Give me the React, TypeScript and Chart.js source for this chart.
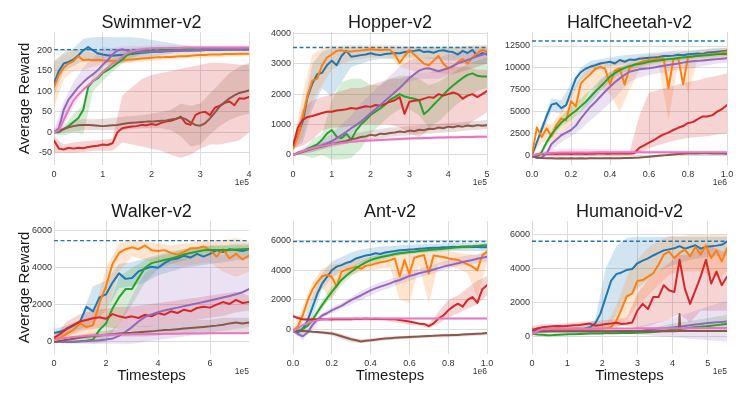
import React, { useEffect, useRef } from "react";
import { Chart, registerables } from "chart.js";

Chart.register(...registerables);

const BLUE = "#1f77b4";
const ORANGE = "#ff7f0e";
const GREEN = "#2ca02c";
const RED = "#d62728";
const PURPLE = "#9467bd";
const BROWN = "#8c564b";
const PINK = "#e377c2";
const FONT = "'Liberation Sans', Arial, Helvetica, sans-serif";
const TXT = "#333333";
const GRID = "#dcdcdc";

function grid(n: number, step: number): number[] {
  return Array.from({ length: n }, (_, i) => Math.round(i * step * 10000) / 10000);
}

/* ---------------- Swimmer-v2 (x in 1e5) ---------------- */
const swX = grid(41, 0.1);
const swBX = grid(21, 0.2);
const swBlue = [120,150,168,172,178,188,200,208,200,193, 190,188,187,188,189,190,191,193,194,195, 196,197,197,198,198,199,199,200,200,200, 200,201,201,201,201,202,202,202,202,202, 202];
const swOrange = [110,140,158,168,174,186,176,178,176,177, 176,175,175,175,176,177,178,179,180,181, 182,183,183,184,184,185,186,186,187,188, 189,189,190,190,190,191,191,191,192,192, 192];
const swGreen = [0,0,8,15,25,35,55,110,125,132, 145,152,160,169,178,189,193,196,198,199, 200,200,201,201,202,202,202,203,203,203, 203,204,204,204,204,204,205,205,205,205, 205];
const swRed = [-20,-40,-42,-38,-40,-38,-39,-36,-34,-33, -30,-31,-27,0,10,12,14,15,18,17, 20,18,23,26,28,32,38,22,18,42, 48,50,42,60,65,72,75,66,83,82, 86];
const swPurple = [0,10,55,80,95,110,122,133,142,152, 165,176,190,200,203,200,197,196,196,197, 197,198,198,198,199,199,200,200,200,201, 201,201,202,202,202,203,203,203,203,204, 204];
const swBrown = [0,3,8,12,15,17,18,18,17,16, 15,16,17,18,20,22,23,24,25,26, 26,27,28,29,31,33,36,32,24,18, 16,22,34,48,63,73,83,90,96,99, 102];
const swPink = [0,5,30,55,78,92,104,115,125,135, 148,158,168,174,185,193,198,201,203,204, 205,205,206,206,206,206,206,207,207,207, 207,207,207,207,207,207,207,207,207,207, 207];
const swBlueLo = [90,150,162,175,172,170,168,170,173,178, 183,188,192,194,195,196,197,197,198,198, 198];
const swBlueHi = [175,195,205,228,232,233,232,232,232,230, 226,222,218,214,211,209,208,207,207,207, 207];
const swOrangeLo = [60,130,150,152,160,163,165,168,170,172, 174,176,178,180,181,182,183,184,185,185, 185];
const swOrangeHi = [170,190,200,198,195,192,190,190,190,191, 192,193,194,195,195,196,197,197,198,198, 198];
const swGreenLo = [-5,-8,0,-5,100,125,148,168,182,190, 193,195,196,197,198,198,199,199,199,200, 200];
const swGreenHi = [5,15,45,65,140,160,180,198,206,208, 208,208,209,209,209,209,210,210,210,210, 210];
const swRedLo = [-50,-50,-50,-48,-45,-45,-45,-25,-30,-35, -40,-45,-55,-62,-55,-40,-30,-30,-25,-20, 0];
const swRedHi = [-10,-30,-25,-22,-20,-18,-15,90,110,130, 140,145,150,155,160,165,170,170,168,165, 165];
const swPurpleLo = [-5,25,88,122,150,180,188,190,192,194, 195,196,197,197,198,198,198,199,199,199, 199];
const swPurpleHi = [5,75,122,158,182,208,206,204,204,204, 205,205,206,206,207,207,207,208,208,208, 208];
const swBrownLo = [-5,0,2,5,5,5,5,5,8,10, 10,10,5,-10,-35,-30,-5,15,30,40, 45];
const swBrownHi = [5,12,30,32,32,33,35,38,40,42, 45,50,55,70,65,70,95,120,145,160, 170];
const swPinkLo = [-3,15,62,98,128,158,182,195,200,201, 202,202,203,203,203,203,203,203,203,203, 203];
const swPinkHi = [3,45,90,118,150,182,206,210,211,211, 212,212,212,212,212,212,212,212,212,212, 212];

/* ---------------- Hopper-v2 (x in 1e5) ---------------- */
const hpX = grid(41, 0.125);
const hpBX = grid(21, 0.25);
const hpBlue = [300,650,1100,1900,2350,2650,2700,2950,3100,2950, 3250,3420,3230,3250,3280,3300,3340,3300,3280,3320, 3330,3350,3340,3380,3400,3420,3450,3380,3400,3360, 3420,3440,3400,3380,3300,3420,3350,3450,3250,3350, 3300];
const hpOrange = [200,600,1250,1950,2450,2500,2950,3200,3300,3420, 3440,3400,3400,3420,3430,3450,3470,3460,3450,3460, 3460,3300,3020,3250,3450,3300,3150,3000,2950,3100, 3250,3000,2850,2900,3050,3150,3000,3200,3350,3450, 3400];
const hpGreen = [0,60,120,200,270,350,500,700,820,600, 560,700,500,800,1000,1150,1315,1420,1530,1650, 1810,1900,2000,1920,1880,1850,1800,1340,1480,1650, 1810,1980,2140,2280,2410,2530,2630,2680,2600,2580, 2580];
const hpRed = [300,900,1150,1250,1280,1330,1380,1420,1420,1460, 1480,1500,1540,1520,1560,1600,1580,1640,1620,1680, 1750,1800,1900,1350,1750,1780,1800,1850,1900,1880, 2000,1950,2000,2050,2000,1850,1950,2000,1900,2000, 2100];
const hpPurple = [0,80,120,170,220,270,320,380,450,550, 650,760,880,980,1100,1230,1370,1500,1640,1780, 1920,2060,2200,2360,2520,2650,2770,2830,2850,2800, 2750,2800,2850,2930,3010,3060,3120,3180,3240,3290, 3340];
const hpBrown = [0,50,100,150,200,240,280,320,360,390, 430,460,520,540,590,610,660,640,700,690, 720,740,770,750,800,780,830,810,860,850, 900,880,930,910,950,930,970,940,980,960, 980];
const hpPink = [0,60,120,170,220,260,290,320,350,370, 390,410,430,445,455,465,475,485,492,500, 508,515,522,530,538,545,550,555,560,565, 570,575,578,581,584,587,590,592,595,598, 600];
const hpBlueLo = [200,400,1500,2200,1900,2400,2900,3000,3100,3150, 3150,3200,3200,3200,3150,3150,3100,3100,3050,3000, 3000];
const hpBlueHi = [400,1500,3000,3400,3500,3550,3550,3550,3550,3550, 3550,3550,3550,3560,3560,3560,3560,3560,3560,3560, 3560];
const hpOrangeLo = [100,600,1800,2300,2800,3000,3100,3150,3200,3200, 3200,2900,2800,2700,2700,2700,2650,2700,2800,2900, 3000];
const hpOrangeHi = [300,2000,3300,3500,3600,3600,3620,3620,3620,3620, 3620,3600,3580,3550,3550,3550,3500,3550,3600,3620, 3620];
const hpGreenLo = [0,0,-100,0,-150,-150,-100,200,700,1000, 1300,1500,1500,1300,900,1100,1400,1700,1900,2100, 2200];
const hpGreenHi = [0,150,500,700,1800,2400,2500,2500,2300,2300, 2500,2600,2600,2500,2300,2400,2600,2800,3000,3100, 3200];
const hpRedLo = [200,300,500,800,900,900,950,1000,1000,1000, 1000,900,700,600,800,900,900,1000,1000,1200, 1400];
const hpRedHi = [400,1500,1800,1900,2000,2100,2200,2200,2300,2400, 2500,2500,2600,2700,2700,2800,2900,2900,2900,2800, 2800];
const hpPurpleLo = [0,50,100,200,300,500,700,1000,1300,1600, 1900,2200,2400,2500,2500,2500,2600,2700,2800,2900, 3000];
const hpPurpleHi = [0,150,300,500,700,1000,1300,1700,2000,2300, 2600,2900,3100,3200,3200,3200,3300,3400,3400,3500, 3500];
const hpBrownLo = [0,30,100,180,260,330,400,450,500,550, 600,620,650,680,700,720,750,770,800,820, 850];
const hpBrownHi = [0,150,300,400,500,600,700,750,800,850, 900,920,950,980,1000,1020,1050,1070,1100,1120, 1150];
const hpPinkLo = [0,150,230,300,350,380,400,420,440,450, 460,470,480,490,500,510,520,525,530,535, 540];
const hpPinkHi = [0,250,330,400,450,480,500,520,540,560, 580,590,600,610,620,630,640,645,650,655, 660];

/* ---------------- HalfCheetah-v2 (x in 1e6) ---------------- */
const hcX = grid(41, 0.025);
const hcBX = grid(21, 0.05);
const hcBlue = [0,1500,3000,4500,5800,5950,5400,5750,7300,8800, 9500,9900,10150,10300,10500,10600,10700,10500,10900,10700, 10950,10900,11050,11100,11150,11200,11250,11350,11350,11400, 11500,11450,11550,11600,11650,11600,11750,11800,11850,11900, 11950];
const hcOrange = [0,3200,2100,3100,2200,3500,4200,4000,6200,5600, 8200,8800,9300,9900,10100,9900,8100,9700,9950,8100, 9950,10400,10600,10800,10900,11000,11050,11100,7700,11000, 11100,8100,11250,11300,11400,11450,11550,11600,11650,11750, 11850];
const hcGreen = [-100,-200,400,1500,2400,3100,3750,4200,4700,5100, 5600,6100,6700,7300,7850,8400,9000,9400,9750,10000, 10200,10350,10450,10550,10700,10780,10850,10920,11000,11050, 11120,11180,11250,11300,11350,11400,11450,11500,11550,11580, 11600];
const hcRed = [0,100,150,150,200,150,200,200,150,200, 200,150,200,200,250,200,200,250,200,250, 200,250,850,1150,1450,1750,2100,2400,2600,2900, 3150,3350,3700,3800,4150,4450,4450,4600,5000,5300, 5750];
const hcPurple = [0,-300,-250,200,1300,1800,2300,2600,2900,3400, 4200,4900,5560,6100,6700,7300,7850,8350,8800,9200, 9560,9700,9830,9900,9950,10050,10150,10250,10330,10420, 10500,10600,10700,10750,10800,10850,10900,10950,11000,11050, 11090];
const hcBrown = [-100,-250,-300,-330,-340,-350,-340,-350,-340,-350, -340,-350,-340,-330,-340,-330,-320,-330,-320,-310, -300,-280,-250,-200,-150,-100,-50,0,50,100, 150,180,200,220,220,230,230,220,210,200, 180];
const hcPink = [0,100,200,250,300,300,320,320,330,330, 340,340,340,350,350,350,350,350,350,350, 350,350,350,350,350,350,360,360,360,360, 360,360,360,360,360,360,360,360,360,360, 360];
const hcBlueLo = [0,2500,5000,4800,6500,8600,9500,9900,10200,10300, 10500,10700,10800,10900,11000,11100,11200,11300,11400,11500, 11600];
const hcBlueHi = [0,3500,6500,6300,8200,10000,10800,11000,11200,11400, 11500,11600,11700,11800,11900,12000,12000,12100,12200,12300, 12300];
const hcOrangeLo = [0,1500,1500,2500,3500,5500,7500,8000,7000,5000, 7500,9800,10200,10400,4000,10700,7000,11000,11100,11000, 11300];
const hcOrangeHi = [0,3800,3500,5000,7000,9000,10300,10700,10800,11000, 11000,11300,11500,11600,11700,11800,11900,12000,12100,12200, 12300];
const hcGreenLo = [-200,0,2000,3300,4000,4900,6000,7300,8500,9300, 9800,10100,10400,10600,10700,10850,11000,11100,11200,11300, 11400];
const hcGreenHi = [0,600,2900,4500,5600,6500,7500,8700,9500,10100, 10500,10700,10900,11100,11200,11350,11500,11600,11700,11800, 11850];
const hcRedLo = [0,0,0,0,0,0,0,0,0,0, 0,300,800,1200,1500,1800,2000,2100,2200,2400, 2500];
const hcRedHi = [0,200,300,300,300,300,300,300,300,300, 400,4500,7200,7500,7800,8100,8400,8600,8900,9100, 9400];
const hcPurpleLo = [0,-400,600,1500,2200,3000,4000,5000,6000,7200, 8400,8900,9200,9400,9600,9800,9900,10100,10300,10500, 10600];
const hcPurpleHi = [0,0,1500,2600,3600,5200,7000,8500,9500,10100, 10500,10600,10700,10800,10900,11000,11100,11200,11300,11400, 11500];
const hcBrownLo = [-100,-400,-450,-450,-450,-450,-450,-450,-450,-450, -420,-400,-300,-150,0,50,100,100,80,60, 40];
const hcBrownHi = [-100,-250,-250,-250,-250,-250,-250,-250,-250,-250, -200,-150,-50,100,200,300,350,380,380,360, 330];
const hcPinkLo = [0,-100,-150,-150,-100,-100,-100,0,0,0, 100,100,150,150,150,150,150,200,200,200, 200];
const hcPinkHi = [0,400,700,800,800,800,700,700,700,650, 600,600,600,550,550,550,550,550,550,550, 550];

/* ---------------- Walker-v2 (x in 1e5) ---------------- */
const wkX = grid(31, 0.25);
const wkBX = grid(16, 0.5);
const wkBlue = [480,560,700,880,1100,1900,1650,2400,2560,3200, 3700,3400,3450,3800,3950,4050,4000,4250,4450,4500, 4650,4550,4750,4600,4750,4950,4850,5000,4950,4900, 5000];
const wkOrange = [125,250,450,650,1000,800,900,2100,3000,4200, 4800,5000,5100,5000,5200,4950,4900,4950,4800,4700, 4850,5050,5050,5150,4950,4600,5000,4500,4750,4450, 4650];
const wkGreen = [0,0,0,0,40,60,120,650,1000,1800, 2400,2850,2850,3450,4000,4250,4330,4420,4500,4600, 4720,4800,4870,4940,4960,4960,4950,4960,4980,5000, 5010];
const wkRed = [215,450,730,920,1100,1180,1280,1330,1250,1500, 1380,1300,1380,1290,1470,1380,1560,1470,1650,1560, 1740,1650,1830,1900,1850,2010,2150,2050,2270,2100, 2150];
const wkPurple = [0,0,10,20,30,40,60,90,130,180, 330,550,800,1100,1350,1480,1600,1700,1780,1850, 1930,2010,2080,2150,2230,2320,2400,2480,2570,2680, 2850];
const wkBrown = [0,60,120,170,230,280,320,350,390,420, 450,470,490,520,550,570,610,640,660,690, 720,750,780,810,840,880,930,1000,1050,990, 1050];
const wkPink = [120,180,230,270,300,330,350,370,380,390, 400,405,410,415,420,425,430,435,440,445, 450,455,458,460,463,465,468,470,472,475, 478];
const wkBlueLo = [200,500,700,1000,1700,2900,3000,3200,3600,3800,4000,4100,4200,4300,4400,4500];
const wkBlueHi = [700,900,1200,3000,3300,4200,4300,4500,4700,4900,5000,5100,5200,5200,5300,5300];
const wkOrangeLo = [0,200,400,300,1500,3800,4600,4400,4300,4200,4100,4200,4300,3800,3500,3800];
const wkOrangeHi = [200,700,1200,1400,4000,5300,5500,5400,5300,5200,5300,5400,5500,5500,5600,5400];
const wkGreenLo = [0,0,0,-100,0,1000,2000,3200,3900,4200,4400,4600,4700,4800,4800,4800];
const wkGreenHi = [0,0,100,300,1500,3500,4000,4400,4600,4800,5000,5100,5200,5200,5200,5200];
const wkRedLo = [100,300,600,700,800,700,800,800,900,1000,1100,1200,1300,1400,1600,1700];
const wkRedHi = [300,1100,1500,1700,1800,1900,1900,2000,2100,2200,2300,2400,2500,2600,2700,2500];
const wkPurpleLo = [0,-100,-100,-100,-100,-100,-100,0,100,200,300,400,500,600,700,800];
const wkPurpleHi = [0,100,150,300,400,1000,2500,3700,4200,4400,4500,4600,4700,4700,4800,4800];
const wkBrownLo = [0,50,150,200,250,300,300,300,350,400,450,500,500,500,500,500];
const wkBrownHi = [0,200,400,500,600,700,800,850,900,1000,1100,1200,1200,1300,1300,1300];
const wkPinkLo = [100,200,280,320,340,360,380,390,400,410,420,425,430,435,440,445];
const wkPinkHi = [140,260,360,400,420,440,460,470,480,490,500,505,510,515,520,525];

/* ---------------- Ant-v2 (x in 1e6) ---------------- */
const anX = grid(41, 0.025);
const anBX = grid(21, 0.05);
const anBlue = [-50,-200,50,600,1500,2400,3100,3550,4000,4250, 4350,4500,4600,4800,4900,5000,5050,5150,5100,5200, 5260,5300,5350,5380,5410,5420,5450,5480,5500,5520, 5530,5550,5560,5590,5580,5600,5590,5580,5570,5560, 5550];
const anOrange = [-100,200,950,1950,2700,3200,3600,3700,3550,2900, 3900,4050,4150,4250,4100,4300,4350,4450,4550,4600, 4690,4800,3600,4700,3750,4850,4950,5030,3790,5000, 4950,4900,4820,4750,4700,4550,4400,4250,4000,5000, 5260];
const anGreen = [-50,-100,50,250,650,1150,1650,2100,2550,2950, 3350,3650,3900,4150,4350,4530,4690,4800,4880,4950, 5020,5100,5150,5190,5230,5260,5300,5340,5370,5400, 5430,5460,5490,5520,5550,5580,5600,5620,5650,5680, 5700];
const anRed = [900,780,700,680,680,700,690,700,680,710, 700,720,700,730,710,740,720,730,710,720, 700,690,650,600,540,480,400,380,230,420, 750,950,1300,1550,1750,1550,2000,2200,1800,2700, 3000];
const anPurple = [-100,-300,-450,-200,300,650,950,1100,1300,1450, 1600,1800,1980,2150,2300,2480,2650,2780,2900,3000, 3120,3250,3350,3480,3620,3700,3800,3880,3950,4050, 4150,4250,4330,4400,4480,4560,4630,4700,4780,4850, 4920];
const anBrown = [-50,-80,-100,-120,-150,-170,-200,-230,-270,-350, -450,-550,-650,-720,-800,-750,-720,-680,-640,-610, -580,-560,-540,-520,-500,-480,-470,-450,-430,-420, -400,-390,-380,-370,-360,-340,-320,-300,-280,-260, -230];
const anPink = [-100,100,300,450,550,620,680,720,740,745, 745,745,745,745,745,745,745,745,745,745, 745,745,745,745,745,745,745,745,745,745, 745,745,745,745,745,745,745,745,745,745, 745];
const anBlueLo = [-200,-300,800,2700,3500,3900,4200,4500,4700,4850, 4950,5050,5100,5150,5200,5250,5300,5300,5300,5300, 5300];
const anBlueHi = [100,300,2200,3800,4600,4900,5200,5400,5500,5600, 5650,5700,5750,5750,5800,5800,5850,5850,5850,5850, 5850];
const anOrangeLo = [-200,400,2000,2800,2000,3400,3700,3900,4000,4100, 4200,2000,1800,4300,1800,4400,4300,4100,3800,2200, 4500];
const anOrangeHi = [0,1500,3200,4100,4400,4500,4700,4800,4900,5000, 5100,5100,5200,5300,5300,5300,5300,5200,5100,5000, 5400];
const anGreenLo = [-200,-100,400,1400,2200,3000,3600,4100,4400,4650, 4850,5000,5100,5200,5250,5300,5350,5400,5450,5500, 5550];
const anGreenHi = [0,200,900,2000,2900,3700,4200,4600,4900,5100, 5200,5300,5400,5450,5500,5550,5600,5650,5700,5750, 5800];
const anRedLo = [800,600,600,600,600,600,600,600,600,600, 550,450,350,250,100,400,800,1100,1400,1700, 2300];
const anRedHi = [1000,800,800,800,800,800,800,800,800,800, 750,650,550,500,400,1200,2000,2300,2800,3300, 3600];
const anPurpleLo = [-200,-700,0,800,1100,1400,1700,2000,2300,2600, 2800,3100,3300,3500,3700,3900,4100,4300,4400,4500, 4600];
const anPurpleHi = [0,-200,600,1100,1500,1800,2200,2600,2900,3200, 3400,3600,3900,4100,4300,4500,4700,4900,5000,5100, 5200];
const anBrownLo = [-100,-200,-250,-300,-400,-650,-850,-900,-850,-780, -700,-660,-620,-590,-560,-540,-520,-480,-450,-420, -380];
const anBrownHi = [0,-50,-80,-80,-150,-300,-500,-650,-600,-520, -460,-430,-400,-370,-340,-320,-290,-260,-230,-200, -150];
const anPinkLo = [-150,250,550,650,700,700,700,700,700,700, 700,700,700,700,700,700,700,700,700,700, 700];
const anPinkHi = [-50,350,700,800,790,790,790,790,790,790, 790,790,790,790,790,790,790,790,790,790, 790];

/* ---------------- Humanoid-v2 (x in 1e5) ---------------- */
const huX = grid(38, 0.15);
const huBX = [0,0.3,0.6,0.9,1.2,1.5,1.8,2.1,2.4,2.7,3.0,3.3,3.6,3.9,4.2,4.5,4.8,5.1,5.4,5.55];
const huBrownX = [0,0.15,0.3,0.45,0.6,0.75,0.9,1.05,1.2,1.35, 1.5,1.65,1.8,1.95,2.1,2.25,2.4,2.55,2.7,2.85, 3.0,3.15,3.3,3.45,3.6,3.75,3.9,4.05,4.18,4.2, 4.22,4.35,4.5,4.65,4.8,4.95,5.1,5.25,5.4,5.55];
const huBlue = [350,430,450,430,420,430,410,420,430,440, 450,520,750,1340,2300,3250,3650,3750,3900,3950, 4290,4450,4580,4750,4900,5050,5110,5170,5300,5150, 5250,5350,5150,5270,5300,5330,5380,5570];
const huOrange = [200,330,370,390,400,410,420,420,410,400, 410,420,430,440,470,540,900,1600,2350,2500, 3250,3300,3500,3700,4200,4800,4980,4600,4900,5100, 4700,5250,4800,5350,4600,5050,4400,5170];
const huGreen = [150,100,80,60,70,90,100,110,120,130, 140,150,155,160,165,170,175,180,185,190, 200,210,230,250,280,320,350,380,420,450, 490,520,550,580,620,650,680,710];
const huRed = [350,450,520,560,580,600,590,620,640,660, 700,740,620,660,720,750,790,720,740,800, 1500,1900,1600,2300,2300,3000,2700,2600,4500,2800, 1900,2700,3500,4500,3100,3800,3000,3500];
const huPurple = [200,250,280,290,300,300,300,300,300,300, 300,300,300,300,300,300,300,300,300,300, 320,340,370,400,430,460,490,520,560,600, 640,680,720,760,790,820,840,860];
const huBrown = [400,300,280,270,270,270,280,280,280,280, 280,280,280,280,280,280,290,290,290,290, 290,290,290,290,290,290,290,290,300,1300, 300,300,300,300,300,300,300,300,300,300];
const huPink = [100,300,420,440,450,450,450,450,450,450, 450,450,450,450,450,450,455,455,455,455, 460,460,460,460,465,465,465,465,470,470, 470,470,475,475,475,480,480,480];
const huBlueLo = [200,350,350,350,350,350,380,450,1200,2300,2800,3300,3800,4100,4300,4500,4600,4700,4700,4700];
const huBlueHi = [500,550,550,550,550,600,1000,4000,5300,5800,5850,5850,5850,5850,5850,5850,5850,5850,5850,5850];
const huOrangeLo = [100,300,300,300,300,300,300,300,400,1000,1800,2400,3000,3600,3800,3800,3800,3600,3500,3800];
const huOrangeHi = [300,500,500,500,500,500,550,600,1800,3500,4500,5200,5600,5900,5900,5950,5950,5950,5950,5950];
const huGreenLo = [100,0,0,50,80,100,120,130,140,150,150,150,200,250,300,300,350,350,350,350];
const huGreenHi = [200,150,150,150,180,200,220,230,240,250,300,400,550,700,800,900,1000,1100,1200,1250];
const huRedLo = [200,400,450,500,500,550,500,550,600,600,500,600,800,1000,1300,800,1500,1500,1500,1500];
const huRedHi = [600,700,700,750,800,850,900,950,1000,1100,2500,3300,3800,4300,4800,4800,5200,5300,5000,5000];
const huPurpleLo = [150,250,250,250,250,250,250,250,200,150,100,50,0,-50,-100,-150,-200,-250,-300,-320];
const huPurpleHi = [250,330,350,350,350,350,350,350,400,450,550,700,850,1000,1200,1400,1600,1800,2000,2050];
const huBrownLo = [300,250,250,250,250,250,250,250,250,250,250,250,250,250,250,250,250,250,250,250];
const huBrownHi = [500,320,320,320,320,320,330,330,330,330,330,330,330,330,330,340,340,340,340,340];
const huPinkLo = [50,400,420,420,420,420,420,420,420,420,420,420,420,420,420,420,420,420,420,420];
const huPinkHi = [150,470,480,480,480,480,480,490,490,490,500,500,500,510,510,510,520,520,520,520];

type Series = { c: string; m: number[]; lo: number[]; hi: number[]; x?: number[] };
type Box = { left: number; top: number; w: number; h: number; yw: number; xh: number; padR: number; tpad: number };
type PanelCfg = {
  title: string; xm: number[]; xb: number[]; xmax: number; xticks: number[]; xdec: number;
  ymin: number; ymax: number; yticks: number[]; best: number; exp: string;
  series: Series[]; box: Box; yTitle: boolean; xTitle: boolean;
};

const PANELS: PanelCfg[] = [
  {
    title: "Swimmer-v2", xm: swX, xb: swBX, xmax: 4, xticks: [0, 1, 2, 3, 4], xdec: 0,
    ymin: -80, ymax: 245, yticks: [-50, 0, 50, 100, 150, 200], best: 202, exp: "1e5",
    series: [
      { c: BLUE, m: swBlue, lo: swBlueLo, hi: swBlueHi },
      { c: ORANGE, m: swOrange, lo: swOrangeLo, hi: swOrangeHi },
      { c: GREEN, m: swGreen, lo: swGreenLo, hi: swGreenHi },
      { c: RED, m: swRed, lo: swRedLo, hi: swRedHi },
      { c: PURPLE, m: swPurple, lo: swPurpleLo, hi: swPurpleHi },
      { c: BROWN, m: swBrown, lo: swBrownLo, hi: swBrownHi },
      { c: PINK, m: swPink, lo: swPinkLo, hi: swPinkHi },
    ],
    box: { left: 0, top: 0, w: 262, h: 199, yw: 54, xh: 34, padR: 13, tpad: 14 }, yTitle: true, xTitle: false,
  },
  {
    title: "Hopper-v2", xm: hpX, xb: hpBX, xmax: 5, xticks: [0, 1, 2, 3, 4, 5], xdec: 0,
    ymin: -330, ymax: 4040, yticks: [0, 1000, 2000, 3000, 4000], best: 3530, exp: "1e5",
    series: [
      { c: BLUE, m: hpBlue, lo: hpBlueLo, hi: hpBlueHi },
      { c: ORANGE, m: hpOrange, lo: hpOrangeLo, hi: hpOrangeHi },
      { c: GREEN, m: hpGreen, lo: hpGreenLo, hi: hpGreenHi },
      { c: RED, m: hpRed, lo: hpRedLo, hi: hpRedHi },
      { c: PURPLE, m: hpPurple, lo: hpPurpleLo, hi: hpPurpleHi },
      { c: BROWN, m: hpBrown, lo: hpBrownLo, hi: hpBrownHi },
      { c: PINK, m: hpPink, lo: hpPinkLo, hi: hpPinkHi },
    ],
    box: { left: 250, top: 0, w: 250, h: 199, yw: 43, xh: 34, padR: 13, tpad: 14 }, yTitle: false, xTitle: false,
  },
  {
    title: "HalfCheetah-v2", xm: hcX, xb: hcBX, xmax: 1, xticks: [0, 0.2, 0.4, 0.6, 0.8, 1.0], xdec: 1,
    ymin: -1100, ymax: 14100, yticks: [0, 2500, 5000, 7500, 10000, 12500], best: 13070, exp: "1e6",
    series: [
      { c: BLUE, m: hcBlue, lo: hcBlueLo, hi: hcBlueHi },
      { c: ORANGE, m: hcOrange, lo: hcOrangeLo, hi: hcOrangeHi },
      { c: GREEN, m: hcGreen, lo: hcGreenLo, hi: hcGreenHi },
      { c: RED, m: hcRed, lo: hcRedLo, hi: hcRedHi },
      { c: PURPLE, m: hcPurple, lo: hcPurpleLo, hi: hcPurpleHi },
      { c: BROWN, m: hcBrown, lo: hcBrownLo, hi: hcBrownHi },
      { c: PINK, m: hcPink, lo: hcPinkLo, hi: hcPinkHi },
    ],
    box: { left: 500, top: 0, w: 247, h: 199, yw: 32, xh: 34, padR: 20, tpad: 14 }, yTitle: false, xTitle: false,
  },
  {
    title: "Walker-v2", xm: wkX, xb: wkBX, xmax: 7.5, xticks: [0, 2, 4, 6], xdec: 0,
    ymin: -650, ymax: 6520, yticks: [0, 2000, 4000, 6000], best: 5460, exp: "1e5",
    series: [
      { c: BLUE, m: wkBlue, lo: wkBlueLo, hi: wkBlueHi },
      { c: ORANGE, m: wkOrange, lo: wkOrangeLo, hi: wkOrangeHi },
      { c: GREEN, m: wkGreen, lo: wkGreenLo, hi: wkGreenHi },
      { c: RED, m: wkRed, lo: wkRedLo, hi: wkRedHi },
      { c: PURPLE, m: wkPurple, lo: wkPurpleLo, hi: wkPurpleHi },
      { c: BROWN, m: wkBrown, lo: wkBrownLo, hi: wkBrownHi },
      { c: PINK, m: wkPink, lo: wkPinkLo, hi: wkPinkHi },
    ],
    box: { left: 0, top: 199, w: 262, h: 200, yw: 54, xh: 45, padR: 13, tpad: 4 }, yTitle: true, xTitle: true,
  },
  {
    title: "Ant-v2", xm: anX, xb: anBX, xmax: 1, xticks: [0, 0.2, 0.4, 0.6, 0.8, 1.0], xdec: 1,
    ymin: -1650, ymax: 7330, yticks: [0, 2000, 4000, 6000], best: 5950, exp: "1e6",
    series: [
      { c: BLUE, m: anBlue, lo: anBlueLo, hi: anBlueHi },
      { c: ORANGE, m: anOrange, lo: anOrangeLo, hi: anOrangeHi },
      { c: GREEN, m: anGreen, lo: anGreenLo, hi: anGreenHi },
      { c: RED, m: anRed, lo: anRedLo, hi: anRedHi },
      { c: PURPLE, m: anPurple, lo: anPurpleLo, hi: anPurpleHi },
      { c: BROWN, m: anBrown, lo: anBrownLo, hi: anBrownHi },
      { c: PINK, m: anPink, lo: anPinkLo, hi: anPinkHi },
    ],
    box: { left: 250, top: 199, w: 250, h: 200, yw: 43, xh: 45, padR: 13, tpad: 4 }, yTitle: false, xTitle: true,
  },
  {
    title: "Humanoid-v2", xm: huX, xb: huBX, xmax: 5.55, xticks: [0, 1, 2, 3, 4, 5], xdec: 0,
    ymin: -1050, ymax: 6780, yticks: [0, 2000, 4000, 6000], best: 5590, exp: "1e5",
    series: [
      { c: BLUE, m: huBlue, lo: huBlueLo, hi: huBlueHi },
      { c: ORANGE, m: huOrange, lo: huOrangeLo, hi: huOrangeHi },
      { c: GREEN, m: huGreen, lo: huGreenLo, hi: huGreenHi },
      { c: RED, m: huRed, lo: huRedLo, hi: huRedHi },
      { c: PURPLE, m: huPurple, lo: huPurpleLo, hi: huPurpleHi },
      { c: BROWN, m: huBrown, lo: huBrownLo, hi: huBrownHi, x: huBrownX },
      { c: PINK, m: huPink, lo: huPinkLo, hi: huPinkHi },
    ],
    box: { left: 500, top: 199, w: 247, h: 200, yw: 32, xh: 45, padR: 20, tpad: 4 }, yTitle: false, xTitle: true,
  },
];

function rgba(hex: string, a: number): string {
  const n = parseInt(hex.slice(1), 16);
  return `rgba(${(n >> 16) & 255},${(n >> 8) & 255},${n & 255},${a})`;
}

function buildDatasets(p: PanelCfg): any[] {
  const ds: any[] = [];
  const none = "rgba(0,0,0,0)";
  p.series.forEach((s, i) => {
    ds.push({
      data: p.xb.map((x, j) => ({ x, y: s.lo[j] })),
      borderColor: none, borderWidth: 0, pointRadius: 0, fill: false, order: 200 - i * 2,
    });
    ds.push({
      data: p.xb.map((x, j) => ({ x, y: s.hi[j] })),
      borderColor: none, borderWidth: 0, pointRadius: 0, fill: "-1",
      backgroundColor: rgba(s.c, 0.2), order: 199 - i * 2,
    });
  });
  ds.push({
    data: [{ x: 0, y: p.best }, { x: p.xmax, y: p.best }],
    borderColor: BLUE, borderWidth: 1.4, borderDash: [4, 2.5], pointRadius: 0, fill: false, order: 50,
  });
  p.series.forEach((s, i) => {
    const xs = s.x || p.xm;
    ds.push({
      data: xs.map((x, j) => ({ x, y: s.m[j] })),
      borderColor: s.c, borderWidth: 2, pointRadius: 0, fill: false,
      borderJoinStyle: "round", borderCapStyle: "round", order: 20 - i,
    });
  });
  return ds;
}

function PanelChart({ p }: { p: PanelCfg }) {
  const ref = useRef<HTMLCanvasElement | null>(null);
  useEffect(() => {
    const b = p.box;
    const expPlugin = {
      id: "expLabel",
      afterDraw(chart: any) {
        const { ctx, chartArea } = chart;
        ctx.save();
        ctx.font = `8.5px ${FONT}`;
        ctx.fillStyle = TXT;
        ctx.textAlign = "right";
        ctx.textBaseline = "middle";
        ctx.fillText(p.exp, chartArea.right, chartArea.bottom + 18);
        ctx.restore();
      },
    };
    const tickFont = { size: 9, family: FONT };
    const chart = new Chart(ref.current as HTMLCanvasElement, {
      type: "line",
      data: { datasets: buildDatasets(p) },
      plugins: [expPlugin],
      options: {
        responsive: false,
        animation: false,
        devicePixelRatio: 1,
        layout: { padding: { left: 0, right: b.padR, top: 0, bottom: 0 } },
        elements: { point: { radius: 0 }, line: { tension: 0 } },
        plugins: {
          legend: { display: false },
          tooltip: { enabled: false },
          title: {
            display: true, text: p.title, color: "#1a1a1a", fullSize: false,
            font: { size: 18, family: FONT, weight: "normal", lineHeight: 1 },
            padding: { top: b.tpad, bottom: 0 },
          },
        },
        scales: {
          x: {
            type: "linear", min: 0, max: p.xmax,
            afterBuildTicks: (s: any) => { s.ticks = p.xticks.map((v) => ({ value: v })); },
            afterFit: (s: any) => { s.height = b.xh; },
            grid: { color: GRID, lineWidth: 1, drawTicks: false },
            border: { display: false },
            ticks: {
              font: tickFont, color: TXT, padding: 4, maxRotation: 0, autoSkip: false,
              callback: (v: any) => (p.xdec ? Number(v).toFixed(p.xdec) : String(v)),
            },
            title: {
              display: p.xTitle, text: "Timesteps", color: "#1a1a1a",
              font: { size: 15, family: FONT, lineHeight: 1 },
              padding: { top: 0, bottom: 15.5 },
            },
          },
          y: {
            type: "linear", min: p.ymin, max: p.ymax,
            afterBuildTicks: (s: any) => { s.ticks = p.yticks.map((v) => ({ value: v })); },
            afterFit: (s: any) => { s.width = b.yw; },
            grid: { color: GRID, lineWidth: 1, drawTicks: false },
            border: { display: false },
            ticks: {
              font: tickFont, color: TXT, padding: 2, autoSkip: false,
              callback: (v: any) => String(v),
            },
            title: {
              display: p.yTitle, text: "Average Reward", color: "#1a1a1a",
              font: { size: 15, family: FONT, lineHeight: 1 },
              padding: { top: 17.5, bottom: 0 },
            },
          },
        },
      } as any,
    });
    return () => chart.destroy();
  }, [p]);
  const b = p.box;
  return (
    <canvas
      ref={ref}
      width={b.w}
      height={b.h}
      style={{ position: "absolute", left: b.left, top: b.top, width: b.w, height: b.h }}
    />
  );
}

export default function App() {
  return (
    <div style={{ position: "fixed", left: 0, top: 0, width: 747, height: 399, background: "#ffffff", overflow: "hidden" }}>
      {PANELS.map((p) => (
        <PanelChart key={p.title} p={p} />
      ))}
    </div>
  );
}
